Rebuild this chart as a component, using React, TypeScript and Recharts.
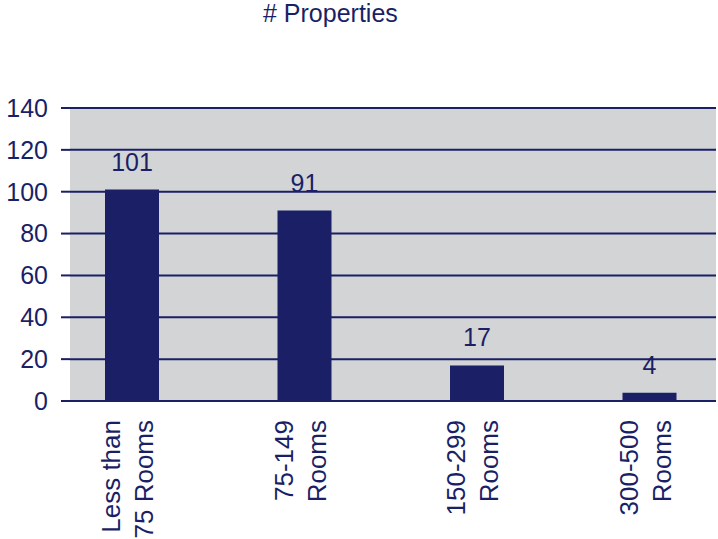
import React from 'react';
import { BarChart, Bar, XAxis, YAxis, CartesianGrid, LabelList } from 'recharts';

const categories = [
  ['Less than', '75 Rooms'],
  ['75-149', 'Rooms'],
  ['150-299', 'Rooms'],
  ['300-500', 'Rooms'],
];
const propertyCounts = [101, 91, 17, 4];
const yTicks = [0, 20, 40, 60, 80, 100, 120, 140];

const NAVY = '#1a1f66';
const GRAY = '#d3d4d6';
const FONT = '"Liberation Sans", Arial, sans-serif';
// screen y where the rotated category labels end (their top)
const LABEL_TOP = 420;

const data = categories.map((lines, i) => ({
  name: lines.join(' '),
  count: propertyCounts[i],
}));

const RotatedTick = (props: any) => {
  const { x, y, index } = props;
  const lines = categories[index] || [];
  return (
    <g transform={`translate(${x},${y})`}>
      {lines.map((line, i) => (
        <text
          key={i}
          transform="rotate(-90)"
          x={y - LABEL_TOP}
          y={i === 0 ? -12 : 21}
          textAnchor="end"
          fill={NAVY}
          fontSize={26}
          fontFamily={FONT}
        >
          {line}
        </text>
      ))}
    </g>
  );
};

export default function App() {
  return (
    <div style={{ position: 'absolute', left: 0, top: 0, width: 718, height: 539, background: '#fff', fontFamily: FONT }}>
      <div
        style={{
          position: 'absolute',
          left: 263,
          top: 0,
          fontSize: 25,
          color: NAVY,
          lineHeight: '27px',
          whiteSpace: 'nowrap',
        }}
      >
        # Properties
      </div>
      <BarChart
        width={718}
        height={539}
        data={data}
        margin={{ top: 108, right: 2, bottom: 0, left: 0 }}
      >
        <CartesianGrid fill={GRAY} vertical={false} stroke={NAVY} strokeWidth={2} fillOpacity={1} />
        <XAxis
          dataKey="name"
          height={138}
          axisLine={{ stroke: NAVY, strokeWidth: 2 }}
          tickLine={false}
          padding={{ left: -24, right: -20 }}
          interval={0}
          tick={<RotatedTick />}
        />
        <YAxis
          width={70}
          domain={[0, 140]}
          ticks={yTicks}
          axisLine={false}
          tickSize={9}
          tickMargin={13}
          tickLine={{ stroke: NAVY, strokeWidth: 2 }}
          tick={{ fill: NAVY, fontSize: 25, fontFamily: FONT }}
        />
        <Bar dataKey="count" fill={NAVY} barSize={54} isAnimationActive={false}>
          <LabelList
            dataKey="count"
            position="top"
            offset={19}
            fill={NAVY}
            fontSize={25}
            fontFamily={FONT}
          />
        </Bar>
      </BarChart>
    </div>
  );
}
